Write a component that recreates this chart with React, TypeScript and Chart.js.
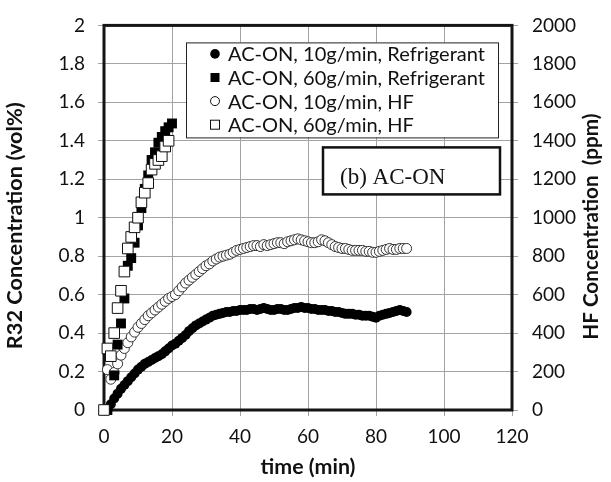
import React, { useEffect, useRef } from "react";
import { Chart, registerables } from "chart.js";

Chart.register(...registerables);

// ---- data ----
const circleTimes = [
  1, 2, 3, 4, 5, 6, 7, 8, 9, 10, 11, 12, 13, 14, 15, 16, 17, 18, 19, 20,
  21, 22, 23, 24, 25, 26, 27, 28, 29, 30, 31, 32, 33, 34, 35, 36, 37, 38, 39, 40,
  41, 42, 43, 44, 45, 46, 47, 48, 49, 50, 51, 52, 53, 54, 55, 56, 57, 58, 59, 60,
  61, 62, 63, 64, 65, 66, 67, 68, 69, 70, 71, 72, 73, 74, 75, 76, 77, 78, 79, 80,
  81, 82, 83, 84, 85, 86, 87, 88, 89,
];

// AC-ON, 10g/min, Refrigerant (vol%)
const refrig10 = [
  0.0, 0.03, 0.06, 0.085, 0.11, 0.13, 0.15, 0.17, 0.19, 0.21,
  0.225, 0.24, 0.25, 0.26, 0.27, 0.28, 0.29, 0.305, 0.32, 0.335,
  0.345, 0.36, 0.375, 0.39, 0.41, 0.425, 0.44, 0.45, 0.46, 0.47,
  0.48, 0.49, 0.495, 0.5, 0.505, 0.51, 0.51, 0.515, 0.515, 0.52,
  0.52, 0.52, 0.525, 0.525, 0.52, 0.525, 0.53, 0.525, 0.52, 0.52,
  0.525, 0.525, 0.52, 0.52, 0.525, 0.53, 0.53, 0.535, 0.53, 0.53,
  0.525, 0.525, 0.52, 0.52, 0.52, 0.515, 0.515, 0.51, 0.51, 0.505,
  0.5, 0.5, 0.5, 0.495, 0.495, 0.49, 0.49, 0.49, 0.485, 0.48,
  0.49, 0.495, 0.5, 0.505, 0.51, 0.515, 0.52, 0.515, 0.51,
];

// AC-ON, 10g/min, HF (ppm)
const hf10 = [
  210, 160, 195, 240, 285, 320, 350, 380, 405, 430,
  450, 470, 490, 505, 520, 535, 550, 565, 580, 590,
  600, 620, 640, 660, 675, 690, 705, 720, 735, 750,
  760, 775, 785, 795, 800, 805, 810, 820, 830, 835,
  840, 845, 850, 855, 855, 850, 860, 855, 860, 865,
  870, 870, 865, 875, 880, 885, 890, 885, 880, 875,
  870, 870, 875, 885, 880, 870, 860, 850, 845, 840,
  840, 835, 830, 830, 830, 830, 825, 825, 820, 820,
  825, 830, 835, 840, 835, 835, 840, 840, 840,
];

// AC-ON, 60g/min, Refrigerant (vol%)
const refrig60Times = [1, 3, 4, 5, 6, 7, 8, 9, 10, 11, 12, 13, 14, 15, 16, 17, 18, 19, 20];
const refrig60 = [0.0, 0.18, 0.34, 0.45, 0.58, 0.75, 0.79, 0.87, 0.96, 1.05, 1.15, 1.22, 1.3, 1.34, 1.39, 1.42, 1.45, 1.47, 1.49];

// AC-ON, 60g/min, HF (ppm)
const hf60Times = [0, 1, 2, 3, 4, 5, 6, 7, 8, 9, 10, 11, 12, 13, 14, 15, 16, 17, 18, 19];
const hf60 = [0, 320, 280, 400, 530, 620, 720, 840, 900, 950, 1000, 1080, 1130, 1180, 1250, 1280, 1300, 1320, 1370, 1400];

const xTicks = [0, 20, 40, 60, 80, 100, 120];
const leftTicks = [0, 0.2, 0.4, 0.6, 0.8, 1, 1.2, 1.4, 1.6, 1.8, 2];
const rightTicks = [0, 200, 400, 600, 800, 1000, 1200, 1400, 1600, 1800, 2000];

const legendLabels = [
  "AC-ON, 10g/min, Refrigerant",
  "AC-ON, 60g/min, Refrigerant",
  "AC-ON, 10g/min, HF",
  "AC-ON, 60g/min, HF",
];
const panelLabel = "(b) AC-ON";
const xTitle = "time (min)";
const leftTitle = "R32 Concentration (vol%)";
const rightTitle = "HF Concentration  (ppm)";

const FONT = "Lato, 'Open Sans', sans-serif";
const GRID = "#a3a3a3";

const pts = (xs: number[], ys: number[]) => xs.map((x, i) => ({ x, y: ys[i] }));

// choose a font size so that text has the wanted width
const fitFont = (ctx: CanvasRenderingContext2D, text: string, weight: string, target: number) => {
  ctx.font = `${weight} 20px ${FONT}`;
  const w = ctx.measureText(text).width;
  const size = (20 * target) / w;
  return `${weight} ${size.toFixed(2)}px ${FONT}`;
};

const decor = {
  id: "decor",
  beforeDatasetsDraw(chart: any) {
    const { ctx, chartArea: a } = chart;
    ctx.save();
    ctx.strokeStyle = "#151515";
    ctx.lineWidth = 3;
    ctx.strokeRect(a.left, a.top, a.right - a.left, a.bottom - a.top);
    ctx.restore();
  },
  afterDatasetsDraw(chart: any) {
    const { ctx, chartArea: a } = chart;
    ctx.save();
    // legend box
    const lx = a.left + 82, ly = a.top + 17, lw = 312, lh = 95;
    ctx.fillStyle = "#fff";
    ctx.fillRect(lx, ly, lw, lh);
    ctx.strokeStyle = "#222";
    ctx.lineWidth = 1;
    ctx.strokeRect(lx + 0.5, ly + 0.5, lw, lh);
    ctx.font = fitFont(ctx, legendLabels[0], "normal", 257);
    ctx.textBaseline = "middle";
    ctx.textAlign = "left";
    legendLabels.forEach((lab, i) => {
      const cy = ly + 11.5 + i * 23.6;
      const mx = lx + 29;
      ctx.lineWidth = 1;
      ctx.strokeStyle = "#111";
      if (i === 0) {
        ctx.fillStyle = "#000";
        ctx.beginPath(); ctx.arc(mx, cy, 4.8, 0, Math.PI * 2); ctx.fill();
      } else if (i === 1) {
        ctx.fillStyle = "#000";
        ctx.fillRect(mx - 4.5, cy - 4.5, 9, 9);
      } else if (i === 2) {
        ctx.fillStyle = "#fff";
        ctx.beginPath(); ctx.arc(mx, cy, 4.5, 0, Math.PI * 2); ctx.fill(); ctx.stroke();
      } else {
        ctx.fillStyle = "#fff";
        ctx.fillRect(mx - 4.5, cy - 4.5, 9, 9);
        ctx.strokeRect(mx - 4.5, cy - 4.5, 9, 9);
      }
      ctx.fillStyle = "#111";
      ctx.fillText(lab, lx + 42, cy + 1);
    });
    // panel label box
    const bx = a.left + 219, by = a.top + 122, bw = 177, bh = 47;
    ctx.fillStyle = "#fff";
    ctx.fillRect(bx, by, bw, bh);
    ctx.strokeStyle = "#111";
    ctx.lineWidth = 2.5;
    ctx.strokeRect(bx, by, bw, bh);
    ctx.fillStyle = "#111";
    ctx.font = `23px 'Liberation Serif', 'DejaVu Serif', serif`;
    ctx.textBaseline = "alphabetic";
    ctx.fillText(panelLabel, bx + 17, by + 37);
    ctx.restore();
  },
  afterDraw(chart: any) {
    const { ctx, chartArea: a } = chart;
    ctx.save();
    ctx.fillStyle = "#111";
    ctx.textAlign = "center";
    ctx.textBaseline = "middle";
    ctx.font = fitFont(ctx, xTitle, "bold", 95);
    ctx.fillText(xTitle, (a.left + a.right) / 2, a.bottom + 57);
    ctx.save();
    ctx.translate(a.left - 89, (a.top + a.bottom) / 2 + 8);
    ctx.rotate(-Math.PI / 2);
    ctx.font = fitFont(ctx, leftTitle, "bold", 247);
    ctx.fillText(leftTitle, 0, 0);
    ctx.restore();
    ctx.save();
    ctx.translate(a.right + 79, (a.top + a.bottom) / 2 + 9);
    ctx.rotate(-Math.PI / 2);
    ctx.font = fitFont(ctx, rightTitle, "bold", 226);
    ctx.fillText(rightTitle, 0, 0);
    ctx.restore();
    ctx.restore();
  },
};

const fmt = (v: any) => String(+Number(v).toFixed(1));

export default function App() {
  const ref = useRef<HTMLCanvasElement>(null);
  useEffect(() => {
    if (!ref.current) return;
    const tickFont = { family: FONT, size: 19 };
    const chart = new Chart(ref.current, {
      type: "scatter",
      data: {
        datasets: [
          {
            label: legendLabels[0],
            data: pts(circleTimes, refrig10),
            yAxisID: "y",
            pointStyle: "circle",
            pointRadius: 5,
            backgroundColor: "#000",
            borderColor: "#000",
            borderWidth: 0,
            clip: false as any,
            order: 3,
          },
          {
            label: legendLabels[1],
            data: pts(refrig60Times, refrig60),
            yAxisID: "y",
            pointStyle: "rect",
            pointRadius: 7,
            backgroundColor: "#000",
            borderColor: "#000",
            borderWidth: 0,
            clip: false as any,
            order: 1,
          },
          {
            label: legendLabels[2],
            data: pts(circleTimes, hf10),
            yAxisID: "y2",
            pointStyle: "circle",
            pointRadius: 5,
            backgroundColor: "#fff",
            borderColor: "#333",
            borderWidth: 1,
            clip: false as any,
            order: 2,
          },
          {
            label: legendLabels[3],
            data: pts(hf60Times, hf60),
            yAxisID: "y2",
            pointStyle: "rect",
            pointRadius: 7.5,
            backgroundColor: "#fff",
            borderColor: "#111",
            borderWidth: 1,
            clip: false as any,
            order: 0,
          },
        ],
      },
      options: {
        animation: false,
        responsive: true,
        maintainAspectRatio: false,
        layout: { padding: { top: 16, left: 0, right: 0, bottom: 0 } },
        plugins: { legend: { display: false }, tooltip: { enabled: false } },
        scales: {
          x: {
            type: "linear",
            min: 0,
            max: 120,
            afterBuildTicks: (s: any) => { s.ticks = xTicks.map((v) => ({ value: v })); },
            afterFit: (s: any) => { s.height = 72; },
            ticks: { font: tickFont, color: "#111", padding: 9, callback: fmt },
            grid: { color: GRID, tickLength: 6, lineWidth: 1 },
            border: { display: false },
          },
          y: {
            position: "left",
            min: 0,
            max: 2,
            afterBuildTicks: (s: any) => { s.ticks = leftTicks.map((v) => ({ value: v })); },
            afterFit: (s: any) => { s.width = 104; },
            ticks: { font: tickFont, color: "#111", padding: 13, callback: fmt },
            grid: { color: GRID, tickLength: 6, lineWidth: 1 },
            border: { display: false },
          },
          y2: {
            position: "right",
            min: 0,
            max: 2000,
            afterBuildTicks: (s: any) => { s.ticks = rightTicks.map((v) => ({ value: v })); },
            afterFit: (s: any) => { s.width = 99; },
            ticks: { font: tickFont, color: "#111", padding: 14, callback: (v: any) => String(v) },
            grid: { color: GRID, tickLength: 6, lineWidth: 1, drawOnChartArea: false },
            border: { display: false },
          },
        },
      },
      plugins: [decor],
    });
    return () => chart.destroy();
  }, []);
  return (
    <div style={{ position: "absolute", left: 0, top: 0, width: 611, height: 482 }}>
      <canvas ref={ref} />
    </div>
  );
}
